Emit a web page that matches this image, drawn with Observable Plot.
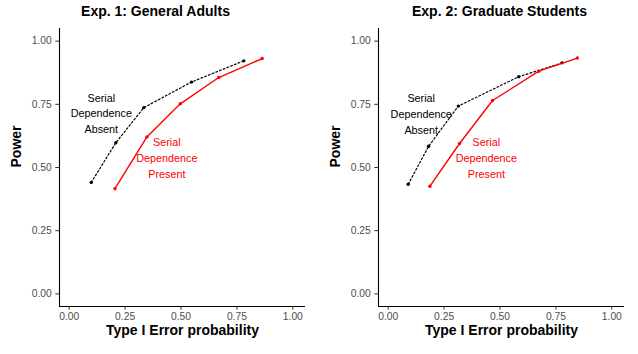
<!DOCTYPE html>
<html>
<head>
<meta charset="utf-8">
<script src="https://cdn.jsdelivr.net/npm/d3@7"></script>
<script src="https://cdn.jsdelivr.net/npm/@observablehq/plot@0.6"></script>
<style>
  html, body { margin: 0; padding: 0; background: #fff; }
  #wrap { position: relative; width: 638px; height: 354px; display: flex; font-family: "Liberation Sans", Arial, Helvetica, sans-serif; }
  .panel { position: relative; width: 319px; height: 354px; }
  .title { position: absolute; top: 0; height: 22px; line-height: 22px; font-weight: bold; font-size: 14px; color: #000; white-space: nowrap; transform: translateX(-50%); }
  .panel svg { position: absolute; top: 22px; left: 0; }
</style>
</head>
<body>
<div id="wrap"></div>
<script>
// ---- data ----
const panelTitles = ["Exp. 1: General Adults", "Exp. 2: Graduate Students"];
const axisTicks = [0, 0.25, 0.5, 0.75, 1];
const xLabel = "Type I Error probability";
const yLabel = "Power";
const absentLabel = "Serial\nDependence\nAbsent";
const presentLabel = "Serial\nDependence\nPresent";

// Exp. 1
const exp1AbsentFA = [0.092, 0.202, 0.327, 0.540, 0.774];
const exp1AbsentPower = [0.441, 0.598, 0.737, 0.838, 0.922];
const exp1PresentFA = [0.198, 0.341, 0.490, 0.662, 0.856];
const exp1PresentPower = [0.416, 0.621, 0.752, 0.856, 0.931];
// Exp. 2
const exp2AbsentFA = [0.083, 0.174, 0.307, 0.577, 0.771];
const exp2AbsentPower = [0.434, 0.584, 0.743, 0.859, 0.914];
const exp2PresentFA = [0.180, 0.3125, 0.460, 0.667, 0.839];
const exp2PresentPower = [0.426, 0.595, 0.765, 0.881, 0.933];

// label anchor positions (data units)
const absentLabelPos = [[0.137, 0.718], [0.141, 0.717]];
const presentLabelPos = [[0.430, 0.541], [0.432, 0.541]];

const panels = [
  {title: panelTitles[0], titleX: 155.5,
   absent: exp1AbsentFA.map((x, i) => ({x, y: exp1AbsentPower[i]})),
   present: exp1PresentFA.map((x, i) => ({x, y: exp1PresentPower[i]})),
   aPos: absentLabelPos[0], pPos: presentLabelPos[0]},
  {title: panelTitles[1], titleX: 180.5,
   absent: exp2AbsentFA.map((x, i) => ({x, y: exp2AbsentPower[i]})),
   present: exp2PresentFA.map((x, i) => ({x, y: exp2PresentPower[i]})),
   aPos: absentLabelPos[1], pPos: presentLabelPos[1]}
];

const FONT = '"Liberation Sans", Arial, Helvetica, sans-serif';
const wrap = document.getElementById("wrap");
const domain = [-0.05, 1.05];
const fmt = d3.format(".2f");

for (const p of panels) {
  const div = document.createElement("div");
  div.className = "panel";
  const t = document.createElement("div");
  t.className = "title";
  t.style.left = p.titleX + "px";
  t.textContent = p.title;
  div.appendChild(t);

  const chart = Plot.plot({
    width: 319,
    height: 332,
    marginTop: 6,
    marginLeft: 59,
    marginRight: 14,
    marginBottom: 48,
    style: {fontFamily: FONT, fontSize: "10.3px", color: "#4d4d4d", background: "transparent", overflow: "visible"},
    x: {domain, label: null},
    y: {domain, label: null},
    marks: [
      Plot.axisX(axisTicks, {tickFormat: fmt, tickSize: 3.7, tickPadding: 2, label: null, stroke: "#333", fill: "#4d4d4d", dx: -1.5}),
      Plot.axisY(axisTicks, {tickFormat: fmt, tickSize: 3.7, tickPadding: 4, label: null, stroke: "#333", fill: "#4d4d4d"}),
      Plot.ruleX([domain[0]], {stroke: "#000", strokeWidth: 1.1}),
      Plot.ruleY([domain[0]], {stroke: "#000", strokeWidth: 1.1}),
      Plot.line(p.absent, {x: "x", y: "y", stroke: "#000", strokeWidth: 1.2, strokeDasharray: "1.8,2.2"}),
      Plot.dot(p.absent, {x: "x", y: "y", r: 1.7, fill: "#000", stroke: null}),
      Plot.line(p.present, {x: "x", y: "y", stroke: "#ff0000", strokeWidth: 1.4}),
      Plot.dot(p.present, {x: "x", y: "y", r: 1.7, fill: "#ff0000", stroke: null}),
      Plot.text([absentLabel], {x: p.aPos[0], y: p.aPos[1], text: d => d, fill: "#000", fontSize: 10.8, lineHeight: 1.47}),
      Plot.text([presentLabel], {x: p.pPos[0], y: p.pPos[1], text: d => d, fill: "#ff0000", fontSize: 10.8, lineHeight: 1.47}),
      Plot.text([xLabel], {frameAnchor: "bottom", text: d => d, dy: 28.5, fontSize: 14, fontWeight: "bold", fill: "#000"}),
      Plot.text([yLabel], {frameAnchor: "left", text: d => d, dx: -42.5, rotate: -90, fontSize: 14, fontWeight: "bold", fill: "#000"})
    ]
  });
  div.appendChild(chart);
  wrap.appendChild(div);
}
</script>
</body>
</html>
